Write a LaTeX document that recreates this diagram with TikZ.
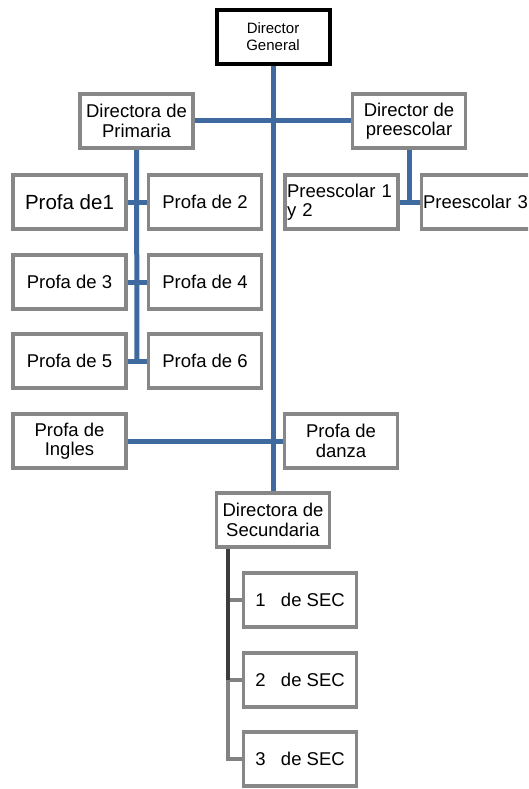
\documentclass[tikz,border=0pt]{standalone}
\usepackage{fontspec}
\setmainfont{Liberation Sans}
\usetikzlibrary{backgrounds}
\definecolor{conblue}{RGB}{62,106,160}
\definecolor{boxgray}{RGB}{135,135,135}
\definecolor{secdark}{RGB}{60,60,60}
\definecolor{seclight}{RGB}{130,130,130}
\begin{document}
\begin{tikzpicture}[x=1pt,y=-1pt,
  box/.style={draw=boxgray, line width=3.5pt, fill=white, minimum width=113pt,
    minimum height=54pt, inner sep=1pt, align=center, font=\fontsize{18.5}{19.5}\selectfont},
  topbox/.style={box, draw=black, line width=4pt, font=\fontsize{15}{17}\selectfont},
  conn/.style={draw=conblue, line width=5pt},
  secconn/.style={line width=4pt}]
\useasboundingbox (0,0) rectangle (528,789);
\clip (0,0) rectangle (528,789);
% nodes
\node[topbox] (dg) at (273,37) {Director\\General};
\node[box] (prim) at (136.5,121) {Directora de\\Primaria};
\node[box] (pree) at (409,121) {Director de\\preescolar};
\node[box, font=\fontsize{20.5}{22}\selectfont] (p1) at (69.5,202) {Profa de1};
\node[box] (p2) at (205,202) {Profa de 2};
\node[box] (p3) at (69.5,282) {Profa de 3};
\node[box] (p4) at (205,282) {Profa de 4};
\node[box] (p5) at (69.5,361) {Profa de 5};
\node[box] (p6) at (205,361) {Profa de 6};
\node[box, align=left, text width=109pt] (pre12) at (341.5,202) {Preescolar 1\\y 2};
\node[box, align=left, text width=110pt] (pre3) at (478,202) {Preescolar 3};
\node[box] (ingles) at (69.5,441) {Profa de\\Ingles};
\node[box] (danza) at (341,441) {Profa de\\danza};
\node[box] (sec) at (273,520) {Directora de\\Secundaria};
\node[box] (s1) at (300,600) {1\ \ \ de SEC};
\node[box] (s2) at (300,680) {2\ \ \ de SEC};
\node[box] (s3) at (300,759) {3\ \ \ de SEC};
% coordinates
\coordinate (pv) at (137,361);
\coordinate (prv) at (409,202);
\coordinate (sx0) at (228,548);
\coordinate (sx1) at (228,600);
\coordinate (sx2) at (228,680);
\coordinate (sx3) at (228,759);
\begin{scope}[on background layer]
\fill[white] (0,0) rectangle (528,789);
\draw[conn] (dg.south) -- (sec.north);
\draw[conn] (prim.east) -- (pree.west);
\draw[conn] (prim.south) -- (pv);
\draw[conn] (p1.east) -- (p2.west);
\draw[conn] (p3.east) -- (p4.west);
\draw[conn] (p5.east) -- (p6.west);
\draw[conn] (pree.south) -- (prv);
\draw[conn] (pre12.east) -- (pre3.west);
\draw[conn] (ingles.east) -- (danza.west);
\draw[secconn, seclight] (sx2) -- (sx3) -- (s3.west);
\draw[secconn, seclight] (sx1) -- (s1.west);
\draw[secconn, seclight] (sx2) -- (s2.west);
\draw[secconn, secdark] (sx0) -- (sx2);
\end{scope}
\end{tikzpicture}
\end{document}
